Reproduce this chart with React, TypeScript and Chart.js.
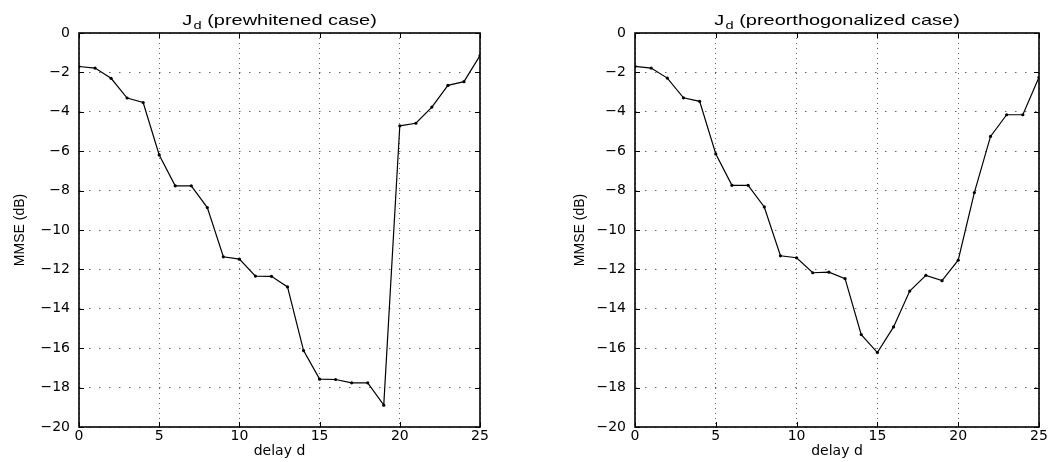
import React, { useEffect, useRef } from "react";
import { Chart, registerables } from "chart.js";

Chart.register(...registerables);

// ---- data ----
const delays = [0, 1, 2, 3, 4, 5, 6, 7, 8, 9, 10, 11, 12, 13, 14, 15, 16, 17, 18, 19, 20, 21, 22, 23, 24, 25];
const prewhitened = [
  -1.70, -1.78, -2.30, -3.30, -3.53, -6.19, -7.76, -7.76, -8.86, -11.36,
  -11.48, -12.34, -12.35, -12.89, -16.12, -17.57, -17.59, -17.76, -17.76, -18.89,
  -4.71, -4.58, -3.76, -2.66, -2.47, -1.15,
];
const preorthogonalized = [
  -1.69, -1.78, -2.29, -3.29, -3.47, -6.14, -7.73, -7.73, -8.83, -11.31,
  -11.41, -12.17, -12.14, -12.47, -15.31, -16.22, -14.92, -13.10, -12.30, -12.57,
  -11.53, -8.10, -5.25, -4.15, -4.15, -2.25,
];
const xTickValues = [0, 5, 10, 15, 20, 25];
const yTickValues = [0, -2, -4, -6, -8, -10, -12, -14, -16, -18, -20];
const titleMain = "J";
const titleSub = "d";
const titleRests = [" (prewhitened case)", " (preorthogonalized case)"];
const xLabel = "delay d";
const yLabel = "MMSE (dB)";

const tickFont = { family: "'DejaVu Sans', 'Liberation Sans', sans-serif", size: 14 };

const frameAndTitlePlugin = {
  id: "frameAndTitle",
  afterDraw(chart: any, _args: any, opts: any) {
    const { ctx, chartArea } = chart;
    const { left, right, top, bottom } = chartArea;
    const xs = chart.scales.x;
    const ys = chart.scales.y;
    ctx.save();
    // box
    ctx.strokeStyle = "#000";
    ctx.lineWidth = 1.6;
    ctx.strokeRect(left, top, right - left, bottom - top);
    // inner ticks
    ctx.lineWidth = 1;
    const tl = 5;
    ctx.beginPath();
    for (const v of xTickValues) {
      const px = Math.round(xs.getPixelForValue(v)) + 0.5;
      ctx.moveTo(px, bottom);
      ctx.lineTo(px, bottom - tl);
      ctx.moveTo(px, top);
      ctx.lineTo(px, top + tl);
    }
    for (const v of yTickValues) {
      const py = Math.round(ys.getPixelForValue(v)) + 0.5;
      ctx.moveTo(left, py);
      ctx.lineTo(left + tl, py);
      ctx.moveTo(right, py);
      ctx.lineTo(right - tl, py);
    }
    ctx.stroke();
    // title: J_d (...)
    const sx = 1.33;
    const mainFont = "15px 'Liberation Sans', Arial, sans-serif";
    const subFont = "11px 'Liberation Sans', Arial, sans-serif";
    ctx.font = mainFont;
    const wMain = ctx.measureText(titleMain).width;
    const wRest = ctx.measureText(opts.rest).width;
    ctx.font = subFont;
    const wSub = ctx.measureText(titleSub).width;
    const total = (wMain + wSub + wRest + 1) * sx;
    const cx = (left + right) / 2;
    ctx.translate(cx - total / 2, 0);
    ctx.scale(sx, 1);
    ctx.fillStyle = "#000";
    ctx.textBaseline = "alphabetic";
    ctx.textAlign = "left";
    ctx.font = mainFont;
    ctx.fillText(titleMain, 0, 25);
    ctx.font = subFont;
    ctx.fillText(titleSub, wMain + 1, 29);
    ctx.font = mainFont;
    ctx.fillText(opts.rest, wMain + 1 + wSub, 25);
    ctx.restore();
  },
};

function makeConfig(values: number[], rest: string, yAxisWidth: number, yTitlePad: number, rightPad: number) {
  return {
    type: "line" as const,
    data: {
      datasets: [
        {
          data: delays.map((d, i) => ({ x: d, y: values[i] })),
          borderColor: "#000",
          backgroundColor: "#000",
          borderWidth: 1.2,
          pointRadius: 1.6,
          pointHoverRadius: 1.6,
          pointBorderWidth: 0,
          pointBackgroundColor: "#000",
          tension: 0,
          fill: false,
        },
      ],
    },
    plugins: [frameAndTitlePlugin],
    options: {
      responsive: false,
      animation: false as const,
      devicePixelRatio: 1,
      layout: { padding: { top: 33, left: 0, right: rightPad, bottom: 0 } },
      plugins: {
        legend: { display: false },
        tooltip: { enabled: false },
        title: { display: false },
        frameAndTitle: { rest },
      },
      scales: {
        x: {
          type: "linear" as const,
          min: 0,
          max: 25,
          afterBuildTicks: (scale: any) => {
            scale.ticks = xTickValues.map((v) => ({ value: v }));
          },
          afterFit: (scale: any) => {
            scale.height = 35;
          },
          ticks: {
            color: "#000",
            font: tickFont,
            padding: 1,
            maxRotation: 0,
            autoSkip: false,
          },
          grid: {
            color: "#666",
            lineWidth: 1,
            drawTicks: false,
          },
          border: { display: false, dash: [1, 4] },
          title: {
            display: true,
            text: xLabel,
            color: "#000",
            font: { family: "'DejaVu Sans', 'Liberation Sans', sans-serif", size: 14 },
            padding: { top: 0, bottom: 2 },
          },
        },
        y: {
          type: "linear" as const,
          min: -20,
          max: 0,
          afterBuildTicks: (scale: any) => {
            scale.ticks = yTickValues.map((v) => ({ value: v }));
          },
          afterFit: (scale: any) => {
            scale.width = yAxisWidth;
          },
          ticks: {
            color: "#000",
            font: tickFont,
            padding: 9,
            autoSkip: false,
            callback: (v: any) => (Number(v) < 0 ? "\u2212" + String(Math.abs(Number(v))) : String(v)),
          },
          grid: {
            color: "#666",
            lineWidth: 1,
            drawTicks: false,
          },
          border: { display: false, dash: [1.5, 8.5] },
          title: {
            display: true,
            text: yLabel,
            color: "#000",
            font: { family: "'Liberation Sans Narrow', 'Liberation Sans', Arial, sans-serif", size: 14 },
            padding: { top: yTitlePad, bottom: 0 },
          },
        },
      },
    },
  };
}

function ChartCanvas(props: {
  values: number[];
  rest: string;
  left: number;
  width: number;
  yAxisWidth: number;
  yTitlePad: number;
  rightPad: number;
}) {
  const ref = useRef<HTMLCanvasElement | null>(null);
  useEffect(() => {
    if (!ref.current) return;
    const cfg: any = makeConfig(props.values, props.rest, props.yAxisWidth, props.yTitlePad, props.rightPad);
    const chart = new Chart(ref.current, cfg);
    return () => chart.destroy();
  }, []);
  return (
    <canvas
      ref={ref}
      width={props.width}
      height={462}
      style={{ position: "absolute", left: props.left, top: 0, width: props.width, height: 462 }}
    />
  );
}

export default function App() {
  return (
    <div style={{ position: "absolute", left: 0, top: 0, width: 1057, height: 462, background: "#fff" }}>
      <ChartCanvas values={prewhitened} rest={titleRests[0]} left={0} width={500} yAxisWidth={79} yTitlePad={12} rightPad={20} />
      <ChartCanvas values={preorthogonalized} rest={titleRests[1]} left={545} width={512} yAxisWidth={90} yTitlePad={27} rightPad={18} />
    </div>
  );
}
